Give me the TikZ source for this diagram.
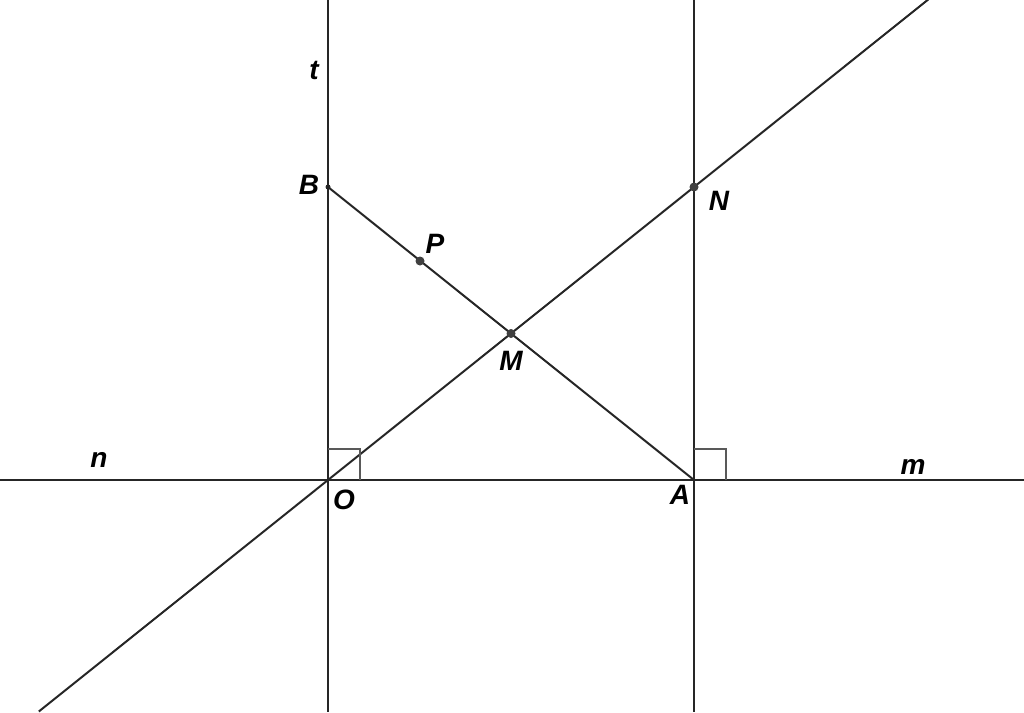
\documentclass[tikz,border=0pt]{standalone}
\usepackage{fontspec}
\setmainfont{Liberation Sans}
\usetikzlibrary{calc}
\begin{document}
\begin{tikzpicture}[x=1pt,y=-1pt,
  ln/.style={line width=2pt,draw=black!85},
  sq/.style={line width=2.6pt,draw=black!65},
  lbl/.style={font=\fontsize{28}{31}\selectfont\bfseries\itshape,inner sep=0pt},
  pt/.style={circle,fill=black!75,inner sep=0pt,minimum size=9pt},
  spt/.style={circle,fill=black!85,inner sep=0pt,minimum size=5pt}]
\useasboundingbox (0,0) rectangle (1024,712);
\coordinate (O) at (328,480);
\coordinate (A) at (694,480);
\coordinate (Bc) at (328,187);
\coordinate (Nc) at (694,187);
\coordinate (L) at (0,480);
\coordinate (R) at (1024,480);
\coordinate (T1) at (328,0);
\coordinate (D1) at (328,712);
\coordinate (T2) at (694,0);
\coordinate (D2) at (694,712);
\coordinate (E1) at ($(O)!-0.79!(Nc)$);
\coordinate (E2) at ($(O)!1.64!(Nc)$);
\draw[ln] (L) -- (R);
\draw[ln] (T1) -- (D1);
\draw[ln] (T2) -- (D2);
\draw[ln] (E1) -- (E2);
\draw[ln] (Bc) -- (A);
\draw[sq] (328,449) -- (360,449) -- (360,480);
\draw[sq] (694,449) -- (726,449) -- (726,480);
\node[spt] (B) at (Bc) {};
\node[pt] (N) at (Nc) {};
\node[pt] (M) at (511,333.5) {};
\node[pt] (P) at (420,261) {};
\node[lbl] at (314,70) {t};
\node[lbl] at (309,185) {B};
\node[lbl] at (435,244) {P};
\node[lbl] at (719,201) {N};
\node[lbl] at (511,361) {M};
\node[lbl] at (344,500) {O};
\node[lbl] at (680,495) {A};
\node[lbl] at (99,460) {n};
\node[lbl] at (913,467) {m};
\end{tikzpicture}
\end{document}
